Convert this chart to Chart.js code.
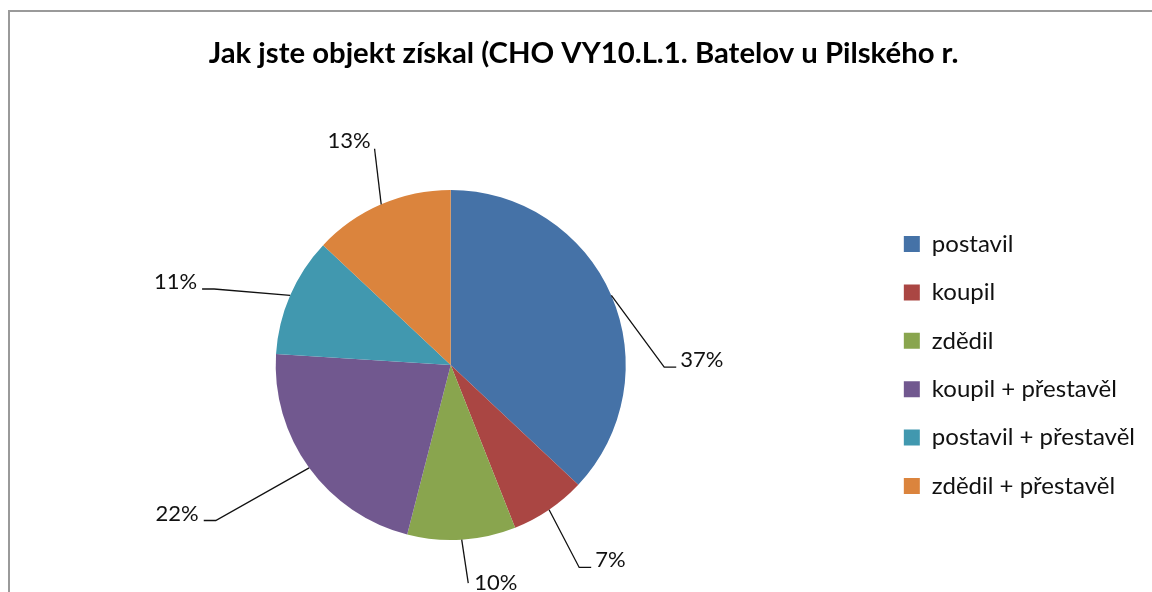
<!DOCTYPE html>
<html>
<head>
<meta charset="utf-8">
<script src="https://cdn.jsdelivr.net/npm/chart.js@4/dist/chart.umd.min.js"></script>
<style>
  html, body { margin:0; padding:0; background:#fff; overflow:hidden; }
  #frame { position:absolute; left:8px; top:10px; width:1200px; height:650px; border-left:2px solid #9a9a9a; border-top:2px solid #9a9a9a; }
  #wrap { position:absolute; left:0; top:0; width:1152px; height:592px; }
</style>
</head>
<body>
<div id="frame"></div>
<div id="wrap"><canvas id="pie"></canvas></div>
<script>
// data
const titleText = "Jak jste objekt získal (CHO VY10.L.1. Batelov u Pilského r.";
const categories = ["postavil", "koupil", "zdědil", "koupil + přestavěl", "postavil + přestavěl", "zdědil + přestavěl"];
const shares = [37, 7, 10, 22, 11, 13];
const sliceColors = ["#4572a7", "#aa4643", "#89a54e", "#71588f", "#4198af", "#db843d"];

// label leader layout (radius factor, angle shift in degrees, where the text goes)
const labelLayout = [
  { r: 1.22, shift: 24,  side: "right" },
  { r: 1.37, shift: 1.8, side: "right" },
  { r: 1.25, shift: -1,  side: "below" },
  { r: 1.61, shift: 2.5, side: "left" },
  { r: 1.42, shift: -5.6, side: "left" },
  { r: 1.31, shift: 4,   side: "top" }
];

const FONT = "Lato, 'Open Sans', sans-serif";

// draws percentage labels with leader lines
const pieLabels = {
  id: "pieLabels",
  afterDatasetsDraw(chart){
    const ctx = chart.ctx;
    const meta = chart.getDatasetMeta(0);
    const data = chart.data.datasets[0].data;
    const total = data.reduce((a, b) => a + b, 0);
    ctx.save();
    ctx.font = "22px " + FONT;
    ctx.fillStyle = "#111";
    ctx.strokeStyle = "#111";
    ctx.lineWidth = 1.3;
    meta.data.forEach((arc, i) => {
      const p = arc.getProps(["x", "y", "startAngle", "endAngle", "outerRadius"], true);
      const mid = (p.startAngle + p.endAngle) / 2;
      const lay = labelLayout[i];
      const ex = p.x + p.outerRadius * Math.cos(mid);
      const ey = p.y + p.outerRadius * Math.sin(mid);
      const a2 = mid + lay.shift * Math.PI / 180;
      const kx = p.x + p.outerRadius * lay.r * Math.cos(a2);
      const ky = p.y + p.outerRadius * lay.r * Math.sin(a2);
      const txt = Math.round(data[i] / total * 100) + "%";
      ctx.beginPath();
      ctx.moveTo(ex, ey);
      ctx.lineTo(kx, ky);
      if (lay.side === "right") {
        ctx.lineTo(kx + 12, ky);
        ctx.stroke();
        ctx.textAlign = "left"; ctx.textBaseline = "alphabetic";
        ctx.fillText(txt, kx + 16, ky);
      } else if (lay.side === "left") {
        ctx.lineTo(kx - 12, ky);
        ctx.stroke();
        ctx.textAlign = "right"; ctx.textBaseline = "alphabetic";
        ctx.fillText(txt, kx - 17, ky);
      } else if (lay.side === "top") {
        ctx.stroke();
        ctx.textAlign = "right"; ctx.textBaseline = "alphabetic";
        ctx.fillText(txt, kx - 4, ky - 1);
      } else {
        ctx.stroke();
        ctx.textAlign = "left"; ctx.textBaseline = "alphabetic";
        ctx.fillText(txt, kx + 6, ky + 7);
      }
    });
    ctx.restore();
  }
};

new Chart(document.getElementById("pie"), {
  type: "pie",
  data: {
    labels: categories,
    datasets: [{ data: shares, backgroundColor: sliceColors, borderWidth: 0 }]
  },
  options: {
    responsive: true,
    maintainAspectRatio: false,
    animation: false,
    layout: { padding: { left: 22, right: 7, top: 0, bottom: 52 } },
    plugins: {
      title: {
        display: true,
        text: titleText,
        color: "#000",
        font: { family: FONT, size: 29.3, weight: "bold", lineHeight: 1.2 },
        padding: { top: 36, bottom: 118.8 }
      },
      legend: {
        position: "right",
        fullSize: false,
        labels: {
          color: "#111",
          boxWidth: 16,
          boxHeight: 16,
          padding: 24.4,
          font: { family: FONT, size: 24, lineHeight: 1.2 }
        }
      },
      tooltip: { enabled: false }
    }
  },
  plugins: [pieLabels]
});
</script>
</body>
</html>
